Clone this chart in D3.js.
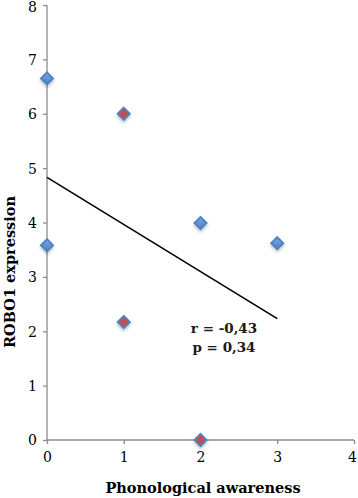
<!DOCTYPE html>
<meta charset="utf-8">
<style>
  body { margin: 0; background: #fff; }
  text { font-family: "DejaVu Serif", "Liberation Serif", serif; }
</style>
<body>
<div id="chart"></div>
<script src="https://d3js.org/d3.v7.min.js"></script>
<script>
var width = 358,
    height = 498;

// data
var phonological = [0, 0, 1, 1, 2, 2, 3];
var robo1 = [6.65, 3.58, 6.0, 2.17, 3.99, 0, 3.62];
var highlighted = [false, false, true, true, false, true, false];
var xTicks = [0, 1, 2, 3, 4];
var yTicks = [0, 1, 2, 3, 4, 5, 6, 7, 8];
var statLines = ["r = -0,43", "p = 0,34"];

var x = d3.scaleLinear().domain([0, 4]).range([47, 354]);
var y = d3.scaleLinear().domain([0, 8]).range([440, 5]);

var svg = d3.select("#chart").append("svg")
    .attr("width", width)
    .attr("height", height);

var defs = svg.append("defs");
var grad = defs.append("linearGradient")
    .attr("id", "blueFill")
    .attr("x1", 0).attr("y1", 0).attr("x2", 0).attr("y2", 1);
grad.append("stop").attr("offset", "0%").attr("stop-color", "#7aa8e6");
grad.append("stop").attr("offset", "100%").attr("stop-color", "#4a7fc8");
var shadow = defs.append("filter").attr("id", "shadow")
    .attr("x", "-50%").attr("y", "-50%").attr("width", "200%").attr("height", "200%");
shadow.append("feDropShadow")
    .attr("dx", 0).attr("dy", 2).attr("stdDeviation", 1.5)
    .attr("flood-color", "#000").attr("flood-opacity", 0.25);

// axes
var yAxis = d3.axisLeft(y).tickValues(yTicks).tickFormat(d3.format("d")).tickSize(4).tickPadding(6);
var xAxis = d3.axisBottom(x).tickValues(xTicks).tickFormat(d3.format("d")).tickSize(4).tickPadding(8);

var gy = svg.append("g").attr("transform", "translate(" + x(0) + ",0)").call(yAxis);
var gx = svg.append("g").attr("transform", "translate(0," + y(0) + ")").call(xAxis);

[gx, gy].forEach(function(g) {
  g.select(".domain").attr("stroke", "#8c8c8c").attr("stroke-width", 1.3);
  g.selectAll(".tick line").attr("stroke", "#8c8c8c").attr("stroke-width", 1.3);
  g.selectAll(".tick text")
      .attr("fill", "#000")
      .style("font-size", "14px")
      .style("font-weight", "500")
      .style("font-family", "'DejaVu Serif', serif");
});
gy.select(".domain").attr("d", "M0," + y(8) + "V" + y(0));
gx.select(".domain").attr("d", "M" + x(0) + ",0H" + x(4));
gy.selectAll(".tick text").attr("dy", "0.35em");
gx.selectAll(".tick text").attr("x", function(d) { return d === 4 ? -2 : 0; });
gy.selectAll(".tick text").attr("y", function(d) { return d === 8 ? 2 : 0; });

// regression line
var mx = d3.mean(phonological),
    my = d3.mean(robo1),
    sxy = d3.sum(phonological, function(d, i) { return (d - mx) * (robo1[i] - my); }),
    sxx = d3.sum(phonological, function(d) { return (d - mx) * (d - mx); }),
    slope = sxy / sxx,
    intercept = my - slope * mx;

svg.append("line")
    .attr("x1", x(0)).attr("y1", y(intercept))
    .attr("x2", x(3)).attr("y2", y(intercept + slope * 3))
    .attr("stroke", "#000")
    .attr("stroke-width", 1.6);

// points
var diamond = d3.symbol().type(d3.symbolDiamond2).size(95);
svg.selectAll(".pt")
    .data(phonological)
    .enter().append("path")
    .attr("class", "pt")
    .attr("d", diamond)
    .attr("transform", function(d, i) { return "translate(" + x(d) + "," + y(robo1[i]) + ")"; })
    .attr("fill", function(d, i) { return highlighted[i] ? "#c0504d" : "url(#blueFill)"; })
    .attr("stroke", "#4f81bd")
    .attr("stroke-width", 1.8)
    .attr("filter", "url(#shadow)");

// stats annotation
svg.selectAll(".stat")
    .data(statLines)
    .enter().append("text")
    .attr("class", "stat")
    .attr("x", 224)
    .attr("y", function(d, i) { return 333 + i * 19; })
    .attr("text-anchor", "middle")
    .style("font-size", "13.5px")
    .style("font-weight", "bold")
    .attr("fill", "#1a1a1a")
    .text(function(d) { return d; });

// axis titles
svg.append("text")
    .attr("x", 203)
    .attr("y", 493)
    .attr("text-anchor", "middle")
    .style("font-size", "14.5px")
    .style("font-weight", "bold")
    .text("Phonological awareness");

svg.append("text")
    .attr("transform", "translate(15,272) rotate(-90)")
    .attr("text-anchor", "middle")
    .style("font-size", "14.5px")
    .style("font-weight", "bold")
    .text("ROBO1 expression");
</script>
</body>
